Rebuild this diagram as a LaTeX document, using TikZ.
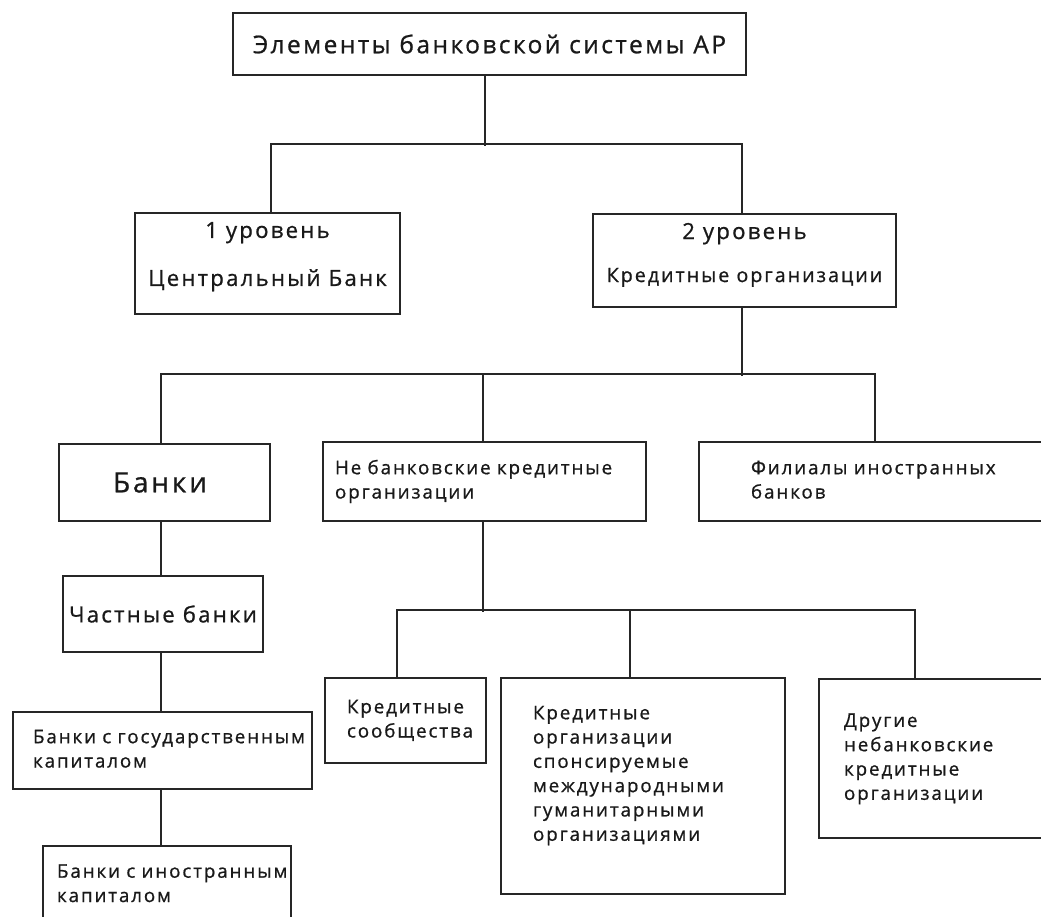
\documentclass[tikz,border=0pt]{standalone}
\usepackage{fontspec}
\setmainfont{Open Sans}[LetterSpace=10,FakeBold=0.8]
\newcommand\fsm{\fontsize{18.8}{24.3}\selectfont}
\newcommand\fkr{\fontsize{19.7}{24}\selectfont}
\newcommand\fmd{\fontsize{22.2}{24}\selectfont}
\newcommand\fti{\fontsize{24.5}{28}\selectfont}
\newcommand\fbg{\fontsize{28}{34}\selectfont}
\newcommand\lines[2]{\hspace*{#1}\begin{tabular}{@{}l@{}}#2\end{tabular}}
\definecolor{ln}{HTML}{262626}
\begin{document}
\begin{tikzpicture}[x=1pt,y=-1pt,
  box/.style={draw=ln, line width=1.8pt, inner sep=0pt, text=black!90},
  lbox/.style={box, align=left, font=\fsm},
  conn/.style={draw=ln, line width=1.8pt}]
\useasboundingbox (0,0) rectangle (1041,917);
\fill[white] (0,0) rectangle (1041,917);
\clip (0,0) rectangle (1041,917);

\node[box, minimum width=513pt, minimum height=62pt, font=\fti] (top) at (489.5,44) {Элементы банковской системы АР};
\node[box, minimum width=265pt, minimum height=101pt, font=\fmd, align=center] (L1) at (267.5,263.5) {1 уровень\\[24pt]Центральный Банк\rule[-19pt]{0pt}{0pt}};
\node[box, minimum width=303pt, minimum height=93pt, font=\fmd, align=center] (L2) at (744.5,260.5) {2 уровень\\[19pt]{\fkr Кредитные организации}\rule[-16pt]{0pt}{0pt}};

\node[box, minimum width=211pt, minimum height=77pt, font=\fbg] (banki) at (164.5,482.5) {Банки\kern9pt};
\node[lbox, text width=323pt, minimum height=79pt] (nbko) at (484.5,481.5) {\lines{12pt}{Не банковские кредитные\\организации}};
\node[lbox, text width=381pt, minimum height=79pt] (fil) at (889.5,481.5) {\lines{52pt}{Филиалы иностранных\\банков}};

\node[box, minimum width=200pt, minimum height=76pt, font=\fmd] (chast) at (163,614) {Частные банки};
\node[lbox, text width=299pt, minimum height=77pt] (gos) at (162.5,750.5) {\lines{20pt}{Банки с государственным\\капиталом}};
\node[lbox, text width=248pt, minimum height=78pt] (inb) at (167,885) {\lines{14pt}{Банки с иностранным\\капиталом}};

\node[lbox, text width=161pt, minimum height=85pt] (ks) at (405.5,720.5) {\lines{22pt}{Кредитные\\сообщества}};
\node[lbox, text width=284pt, minimum height=216pt] (kos) at (643,786) {\lines{32pt}{Кредитные\\организации\\спонсируемые\\международными\\гуманитарными\\организациями\rule[-29pt]{0pt}{0pt}}};
\node[lbox, text width=261pt, minimum height=159pt] (dr) at (949.5,758.5) {\lines{25pt}{Другие\\небанковские\\кредитные\\организации}};

% connectors
\draw[conn] ([xshift=-4.5pt]top.south) -- ++(0,70);
\draw[conn] ([xshift=3.5pt]L1.north) -- ++(0,-68) -| ([xshift=-2.5pt]L2.north);
\draw[conn] ([xshift=-2.5pt]L2.south) -- ++(0,68);
\draw[conn] ([xshift=-3.5pt]banki.north) -- ++(0,-69) -| ([xshift=-14.5pt]fil.north);
\draw[conn] ([xshift=-1.5pt]nbko.north) -- ++(0,-67);
\draw[conn] ([xshift=-3.5pt]banki.south) -- ([xshift=-2pt]chast.north);
\draw[conn] ([xshift=-2pt]chast.south) -- ([xshift=-1.5pt]gos.north);
\draw[conn] ([xshift=-1.5pt]gos.south) -- ([xshift=-6pt]inb.north);
\draw[conn] ([xshift=-1.5pt]nbko.south) -- ++(0,90);
\draw[conn] ([xshift=-8.5pt]ks.north) -- ++(0,-67) -| ([xshift=-34.5pt]dr.north);
\draw[conn] ([xshift=-13pt]kos.north) -- ++(0,-67);
\end{tikzpicture}
\end{document}
